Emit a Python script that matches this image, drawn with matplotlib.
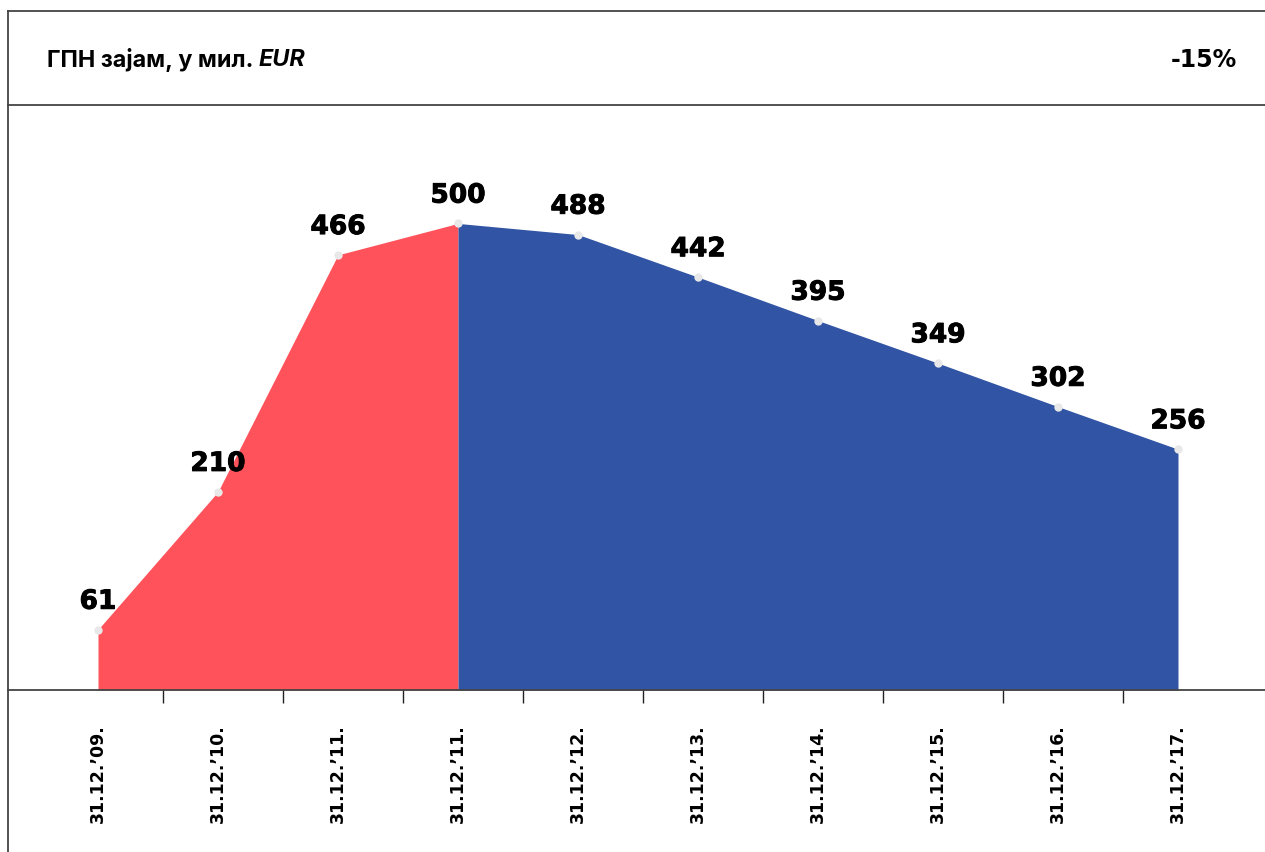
import matplotlib.pyplot as plt
import matplotlib.patheffects as pe
from matplotlib.lines import Line2D

# ГПН зајам, стање на крају године (мил. EUR)
dates = ['31.12.’09.', '31.12.’10.', '31.12.’11.', '31.12.’11.', '31.12.’12.',
         '31.12.’13.', '31.12.’14.', '31.12.’15.', '31.12.’16.', '31.12.’17.']
values = [61, 210, 466, 500, 488, 442, 395, 349, 302, 256]
split = 3  # до овог индекса црвено, после плаво

red = '#FF525A'
blue = '#3154A4'
frame = '#444444'

W, H = 1265, 852
fig = plt.figure(figsize=(W / 100, H / 100), dpi=100)

ax = fig.add_axes([8 / W, 1 - 690 / H, 1 - 8 / W, (690 - 105) / H])
x = list(range(len(values)))
floor = -4.3

ax.fill_between(x[:split + 1], values[:split + 1], floor, color=red, lw=0)
ax.fill_between(x[split:], values[split:], floor, color=blue, lw=0)
ax.plot(x, values, 'o', color='#e8e8e8', ms=6, mew=0, zorder=3)

# подебљане ознаке вредности
heavy = [pe.withStroke(linewidth=0.7, foreground='black')]
for xi, v in zip(x, values):
    ax.annotate(str(v), (xi, v), xytext=(0, 15), textcoords='offset points',
                ha='center', va='baseline', fontsize=19, fontweight='bold',
                family='DejaVu Sans', path_effects=heavy)

ax.set_xlim(-0.75, 9.725)
ax.set_ylim(floor, 628)

ax.set_xticks(x)
ax.set_xticklabels(dates, rotation=90, fontsize=12.5, fontweight='bold', va='top')
ax.tick_params(axis='x', which='major', length=0, pad=25)
ax.set_xticks([i + 0.54 for i in range(len(values) - 1)], minor=True)
ax.tick_params(axis='x', which='minor', length=9.4, width=1, color='#222222',
               direction='out')
ax.set_yticks([])
for s in ax.spines.values():
    s.set_visible(False)

# оквир и линије заглавља
for xs, ys in [((8, 8), (11, H)), ((8, W), (11, 11)), ((8, W), (105, 105)),
               ((8, W), (690, 690))]:
    fig.add_artist(Line2D([v / W for v in xs], [1 - v / H for v in ys],
                          color=frame, lw=1.3))

renderer = fig.canvas.get_renderer()
t1 = fig.text(47 / W, 1 - 60 / H, 'ГПН зајам, у мил. ', fontsize=16.8,
              fontweight='bold', family='Inter', va='center')
bb = t1.get_window_extent(renderer)
fig.text(bb.x1 / W, 1 - 60 / H, 'EUR', fontsize=16.8, fontweight='bold',
         style='italic', family='Inter', va='center')
fig.text(1237 / W, 1 - 60 / H, '-15%', fontsize=17, fontweight='bold',
         family='DejaVu Sans', ha='right', va='center')

fig.savefig('out.png', dpi=100)
